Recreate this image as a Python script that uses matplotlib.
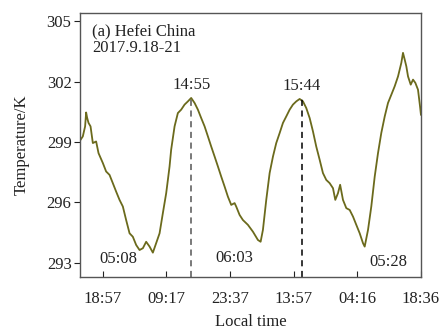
import numpy as np
import matplotlib
matplotlib.use('Agg')
import matplotlib.pyplot as plt

# hours counted from 2017-09-18 00:00, temperature in K
hours = [13.92, 14.44, 14.96, 15.19, 15.41, 15.73, 16.18, 16.70, 17.44, 17.98,
         18.95, 19.69, 20.46, 21.20, 21.95, 22.71, 23.46, 24.20, 24.97, 25.71,
         26.46, 27.22, 27.97, 28.71, 29.48, 30.22, 30.96, 31.73, 32.47, 33.22,
         33.60, 33.98, 34.34, 35.11, 35.85, 36.60, 37.36, 38.11, 38.85, 39.62,
         40.36, 41.11, 41.87, 42.62, 43.36, 44.13, 44.87, 45.61, 46.38, 47.12,
         47.87, 48.63, 48.99, 49.76, 50.50, 51.63, 52.76, 53.88, 54.49, 55.01,
         55.76, 56.52, 57.27, 58.01, 58.78, 59.52, 60.26, 61.03, 61.77, 62.52,
         63.28, 64.03, 64.77, 65.54, 66.28, 67.02, 67.79, 68.53, 69.28, 70.04,
         70.79, 71.31, 71.91, 72.40, 73.04, 73.79, 74.55, 75.30, 76.04, 76.81,
         77.55, 77.93, 78.68, 79.42, 80.19, 80.93, 81.67, 82.44, 83.18, 83.93,
         84.69, 85.44, 86.18, 86.56, 86.95, 87.31, 87.69, 88.30, 88.82, 89.34,
         89.94, 90.40, 90.60]
temp = [299.11, 299.28, 299.78, 300.47, 300.21, 299.95, 299.78, 298.95, 299.03, 298.45,
        297.96, 297.54, 297.37, 296.96, 296.54, 296.13, 295.80, 295.13, 294.47, 294.30,
        293.89, 293.64, 293.73, 294.05, 293.81, 293.51, 293.98, 294.47, 295.47, 296.46,
        297.12, 297.79, 298.62, 299.78, 300.44, 300.61, 300.86, 301.02, 301.19, 300.94,
        300.61, 300.19, 299.78, 299.28, 298.78, 298.28, 297.79, 297.29, 296.79, 296.29,
        295.88, 295.97, 295.80, 295.38, 295.13, 294.89, 294.55, 294.14, 294.05, 294.64,
        296.13, 297.46, 298.28, 298.95, 299.45, 299.95, 300.27, 300.61, 300.86, 301.02,
        301.14, 301.02, 300.69, 300.19, 299.53, 298.78, 298.12, 297.46, 297.12, 296.96,
        296.71, 296.13, 296.46, 296.88, 296.13, 295.72, 295.63, 295.30, 294.89, 294.47,
        293.98, 293.81, 294.64, 295.80, 297.29, 298.45, 299.45, 300.27, 300.94, 301.35,
        301.77, 302.26, 302.93, 303.43, 303.09, 302.76, 302.26, 301.85, 302.10, 301.94,
        301.60, 300.77, 300.36]

xtick_hours = [18.95, 33.283, 47.617, 61.95, 76.267, 90.6]
xtick_labels = ['18:57', '09:17', '23:37', '13:57', '04:16', '18:36']
ytick_vals = [293, 296, 299, 302, 305]

peak_hours = [38.917, 63.733]
peak_temps = [301.19, 301.14]
peak_labels = ['14:55', '15:44']
min_label_pos = [(22.44, 293.19), (48.48, 293.24), (83.19, 293.07)]
min_labels = ['05:08', '06:03', '05:28']

plt.rcParams['font.family'] = ['Liberation Serif', 'DejaVu Serif']

fig = plt.figure(figsize=(4.46, 3.29), dpi=100)
ax = fig.add_axes([0.179, 0.158, 0.765, 0.802])

ax.plot(hours, temp, color='#6b6a1c', lw=1.3)

ymin = 292.3
for h, t, c in zip(peak_hours, peak_temps, ['#555555', 'k']):
  ax.plot([h, h], [ymin, t], ls=(0, (4, 3)), color=c, lw=1.1)
for h, t, s in zip(peak_hours, peak_temps, peak_labels):
  ax.text(h, t + 0.25, s, ha='center', va='bottom', fontsize=12, color='#222222')
for (h, t), s in zip(min_label_pos, min_labels):
  ax.text(h, t, s, ha='center', va='center', fontsize=12, color='#222222')

ax.text(0.035, 0.96, '(a) Hefei China\n2017.9.18-21', transform=ax.transAxes,
        ha='left', va='top', fontsize=12, color='#222222', linespacing=1.0)

ax.set_xlim(13.77, 90.62)
ax.set_ylim(ymin, 305.4)
ax.set_xticks(xtick_hours)
ax.set_xticklabels(xtick_labels)
ax.set_yticks(ytick_vals)
ax.tick_params(axis='x', direction='in', length=4, pad=10, labelsize=12, colors='#222222')
ax.tick_params(axis='y', direction='out', length=4, pad=2, labelsize=12, colors='#222222')
for s in ax.spines.values():
  s.set_color('#555555')
  s.set_linewidth(1.0)

ax.set_xlabel('Local time', fontsize=12, color='#222222', labelpad=5)
ax.set_ylabel('Temperature/K', fontsize=12, color='#222222', labelpad=12)

fig.savefig('out.png', dpi=100)
